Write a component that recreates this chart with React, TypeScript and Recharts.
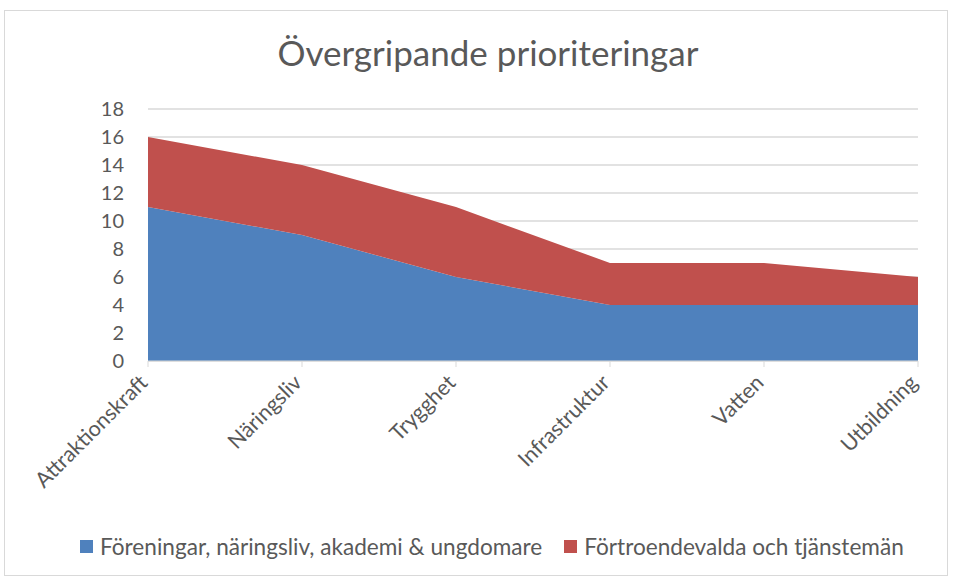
import React from "react";
import { AreaChart, Area, XAxis, YAxis, CartesianGrid } from "recharts";

const categories = ["Attraktionskraft", "Näringsliv", "Trygghet", "Infrastruktur", "Vatten", "Utbildning"];
const foreningar = [11, 9, 6, 4, 4, 4];
const fortroende = [5, 5, 5, 3, 3, 2];
const seriesNames = ["Föreningar, näringsliv, akademi & ungdomare", "Förtroendevalda och tjänstemän"];
const seriesColors = ["#4F81BD", "#C0504D"];
const yTicks = [0, 2, 4, 6, 8, 10, 12, 14, 16, 18];
const title = "Övergripande prioriteringar";

const data = categories.map((c, i) => ({ name: c, a: foreningar[i], b: fortroende[i] }));

const FONT = "Lato, 'Open Sans', sans-serif";
const TEXT = "#595959";

const XTick = (props: any) => {
  const { x, y, payload } = props;
  const ax = x + 1;
  const ay = y + 15;
  return (
    <text
      x={ax}
      y={ay}
      transform={`rotate(-45, ${ax}, ${ay})`}
      textAnchor="end"
      fill={TEXT}
      fontSize={21.5}
      fontFamily={FONT}
    >
      {payload.value}
    </text>
  );
};

export default function App() {
  return (
    <div style={{ position: "absolute", left: 0, top: 0, width: 957, height: 581, background: "#fff", fontFamily: FONT }}>
      <div style={{ position: "absolute", left: 4, top: 10, width: 944, height: 566, border: "1px solid #d9d9d9", boxSizing: "border-box" }} />
      <div style={{ position: "absolute", left: 0, top: 30, width: 976, textAlign: "center", fontSize: 35, color: TEXT, lineHeight: "44px" }}>{title}</div>
      <div style={{ position: "absolute", left: 0, top: 0 }}>
        <AreaChart width={957} height={581} data={data} margin={{ top: 109, right: 39, bottom: 0, left: 0 }}>
          <CartesianGrid vertical={false} stroke="#d9d9d9" strokeWidth={1.5} />
          <XAxis
            dataKey="name"
            height={220}
            tick={<XTick />}
            tickLine={{ stroke: "#d9d9d9" }}
            axisLine={{ stroke: "#d9d9d9" }}
            tickSize={6}
            interval={0}
          />
          <YAxis
            width={148}
            domain={[0, 18]}
            ticks={yTicks}
            interval={0}
            axisLine={false}
            tickLine={false}
            tick={{ fill: TEXT, fontSize: 20, fontFamily: FONT }}
            tickMargin={18}
          />
          <Area type="linear" dataKey="a" stackId="1" stroke="none" fill={seriesColors[0]} fillOpacity={1} isAnimationActive={false} />
          <Area type="linear" dataKey="b" stackId="1" stroke="none" fill={seriesColors[1]} fillOpacity={1} isAnimationActive={false} />
        </AreaChart>
      </div>
      <div style={{ position: "absolute", left: 80, top: 533, display: "flex", alignItems: "center", fontSize: 22.6, color: TEXT, whiteSpace: "nowrap" }}>
        {seriesNames.map((n, i) => (
          <div key={n} style={{ display: "flex", alignItems: "center", marginRight: 22 }}>
            <span style={{ display: "inline-block", width: 13, height: 13, background: seriesColors[i], marginRight: 7 }} />
            <span>{n}</span>
          </div>
        ))}
      </div>
    </div>
  );
}
